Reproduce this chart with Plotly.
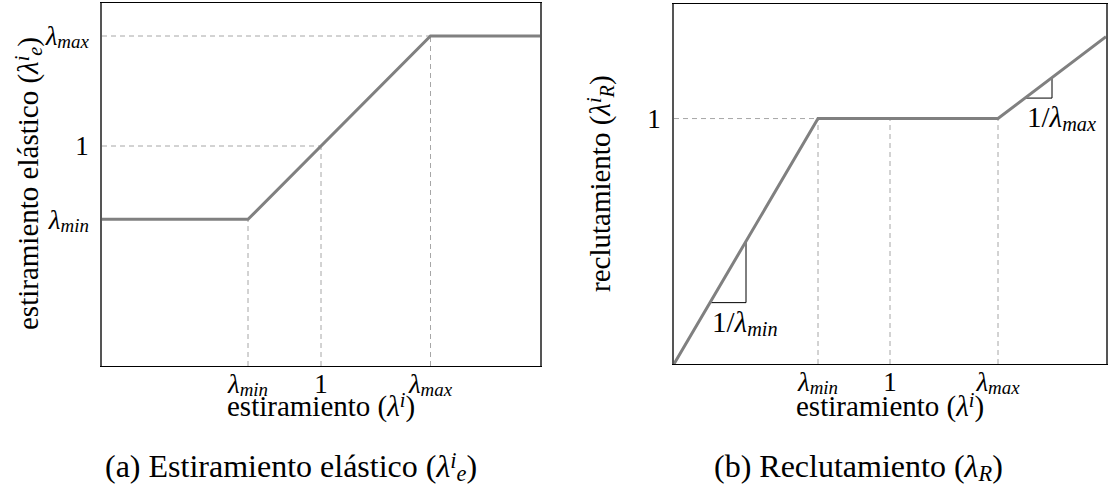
import plotly.graph_objects as go

# Stretch thresholds and axis extent
LAM_MIN = 2 / 3
LAM_MAX = 1.5
X_END = 2.0


def sub(t):
    return f"<span style='font-size:70%;baseline-shift:-0.18em'><i>{t}</i></span>"


def sup(t):
    return f"<span style='font-size:70%;baseline-shift:0.42em'><i>{t}</i></span>"


LAM = "<i>λ</i>"

# Tick positions / labels
x_tick_vals = [LAM_MIN, 1.0, LAM_MAX]
x_tick_text = [LAM + sub("min"), "1", LAM + sub("max")]
ya_tick_vals = [LAM_MIN, 1.0, LAM_MAX]
ya_tick_text = [LAM + sub("min"), "1", LAM + sub("max")]
yb_tick_vals = [1.0]
yb_tick_text = ["1"]

# (a) elastic stretch: clamped between the two thresholds
elastic_x = [0.0, LAM_MIN, LAM_MAX, X_END]
elastic_y = [LAM_MIN, LAM_MIN, LAM_MAX, LAM_MAX]

# (b) recruitment: slope 1/lam_min, plateau at 1, slope 1/lam_max
recruit_x = [0.0, LAM_MIN, LAM_MAX, X_END]
recruit_y = [0.0, 1.0, 1.0, X_END / LAM_MAX]

W, H = 1110, 502
FONT = "Liberation Serif"
FS_TICK = 27
FS_SLOPE = 29
FS_TITLE = 29
FS_CAP = 32
CURVE = "#808080"
GUIDE = "#a6a6a6"


def px(x):
    return x / W


def py(y):
    return 1 - y / H


fig = go.Figure()

# ---------- panel (a) ----------
guides_a_x = [0, LAM_MAX, None, 0, 1.0, None,
              LAM_MIN, LAM_MIN, None, 1.0, 1.0, None, LAM_MAX, LAM_MAX]
guides_a_y = [LAM_MAX, LAM_MAX, None, 1.0, 1.0, None,
              0, LAM_MIN, None, 0, 1.0, None, 0, LAM_MAX]
fig.add_trace(go.Scatter(x=guides_a_x, y=guides_a_y, mode="lines",
                         line=dict(color=GUIDE, width=1, dash="5px,4px"),
                         xaxis="x", yaxis="y", hoverinfo="skip"))
fig.add_trace(go.Scatter(x=elastic_x, y=elastic_y, mode="lines",
                         line=dict(color=CURVE, width=3),
                         xaxis="x", yaxis="y"))

# ---------- panel (b) ----------
guides_b_x = [0, LAM_MIN, None, LAM_MIN, LAM_MIN, None,
              1.0, 1.0, None, LAM_MAX, LAM_MAX]
guides_b_y = [1.0, 1.0, None, 0, 1.0, None, 0, 1.0, None, 0, 1.0]
fig.add_trace(go.Scatter(x=guides_b_x, y=guides_b_y, mode="lines",
                         line=dict(color=GUIDE, width=1, dash="5px,4px"),
                         xaxis="x2", yaxis="y2", hoverinfo="skip"))

# slope triangles on the two rising segments
t1a, t1b = LAM_MIN / 4, LAM_MIN / 2
t2a, t2b = LAM_MAX + (X_END - LAM_MAX) / 4, LAM_MAX + (X_END - LAM_MAX) / 2
tri_x = [t1a, t1b, t1b, None, t2a, t2b, t2b]
tri_y = [t1a / LAM_MIN, t1a / LAM_MIN, t1b / LAM_MIN, None,
         t2a / LAM_MAX, t2a / LAM_MAX, t2b / LAM_MAX]
fig.add_trace(go.Scatter(x=tri_x, y=tri_y, mode="lines",
                         line=dict(color="black", width=1),
                         xaxis="x2", yaxis="y2", hoverinfo="skip"))
fig.add_trace(go.Scatter(x=recruit_x, y=recruit_y, mode="lines",
                         line=dict(color=CURVE, width=3),
                         xaxis="x2", yaxis="y2"))

tick_font = dict(family=FONT, size=FS_TICK, color="black")
common_x = dict(range=[0, X_END], showgrid=False, zeroline=False, ticks="",
                showline=True, mirror=True, linecolor="black", linewidth=1,
                tickfont=tick_font, ticklabelstandoff=-6, fixedrange=True)
common_y = dict(showgrid=False, zeroline=False, ticks="",
                showline=True, mirror=True, linecolor="#555555", linewidth=1.5,
                tickfont=tick_font, ticklabelstandoff=6, fixedrange=True)

fig.update_layout(
    width=W, height=H,
    margin=dict(l=0, r=0, t=0, b=0),
    paper_bgcolor="white", plot_bgcolor="white",
    showlegend=False,
    xaxis=dict(common_x, domain=[px(102), px(540)], anchor="y",
               tickvals=x_tick_vals, ticktext=x_tick_text),
    yaxis=dict(common_y, domain=[py(366), py(3)], anchor="x",
               range=[0, 1.1 * LAM_MAX],
               tickvals=ya_tick_vals, ticktext=ya_tick_text),
    xaxis2=dict(common_x, domain=[px(674), px(1106)], anchor="y2",
                tickvals=x_tick_vals, ticktext=x_tick_text),
    yaxis2=dict(common_y, domain=[py(364), py(4)], anchor="x2",
                range=[0, 1.1 * X_END / LAM_MAX],
                tickvals=yb_tick_vals, ticktext=yb_tick_text),
)

title_font = dict(family=FONT, size=FS_TITLE, color="black")
cap_font = dict(family=FONT, size=FS_CAP, color="black")
slope_font = dict(family=FONT, size=FS_SLOPE, color="black")
annotations = [
    # axis titles
    dict(x=px(321), y=py(406), font=title_font,
         text="estiramiento (" + LAM + sup("i") + ")"),
    dict(x=px(890), y=py(406), font=title_font,
         text="estiramiento (" + LAM + sup("i") + ")"),
    dict(x=px(28), y=py(184), textangle=-90, font=title_font,
         text="estiramiento elástico (" + LAM + sup("i") + sub("e") + ")"),
    dict(x=px(600), y=py(184), textangle=-90, font=title_font,
         text="reclutamiento (" + LAM + sup("i") + sub("R") + ")"),
    # captions
    dict(x=px(291), y=py(467), font=cap_font,
         text="(a) Estiramiento elástico (" + LAM + sup("i") + sub("e") + ")"),
    dict(x=px(858), y=py(467), font=cap_font,
         text="(b) Reclutamiento (" + LAM + sub("R") + ")"),
]
for a in annotations:
    a.update(xref="paper", yref="paper", showarrow=False,
             xanchor="center", yanchor="middle")

# slope labels under the triangles
annotations += [
    dict(x=t1a, y=t1a / LAM_MIN, xref="x2", yref="y2", showarrow=False,
         text="1/" + LAM + sub("min"), font=slope_font,
         xanchor="left", yanchor="top", yshift=-1),
    dict(x=t2a, y=t2a / LAM_MAX, xref="x2", yref="y2", showarrow=False,
         text="1/" + LAM + sub("max"), font=slope_font,
         xanchor="left", yanchor="top", yshift=-1),
]
fig.update_layout(annotations=annotations)

fig.write_html("out.html")
